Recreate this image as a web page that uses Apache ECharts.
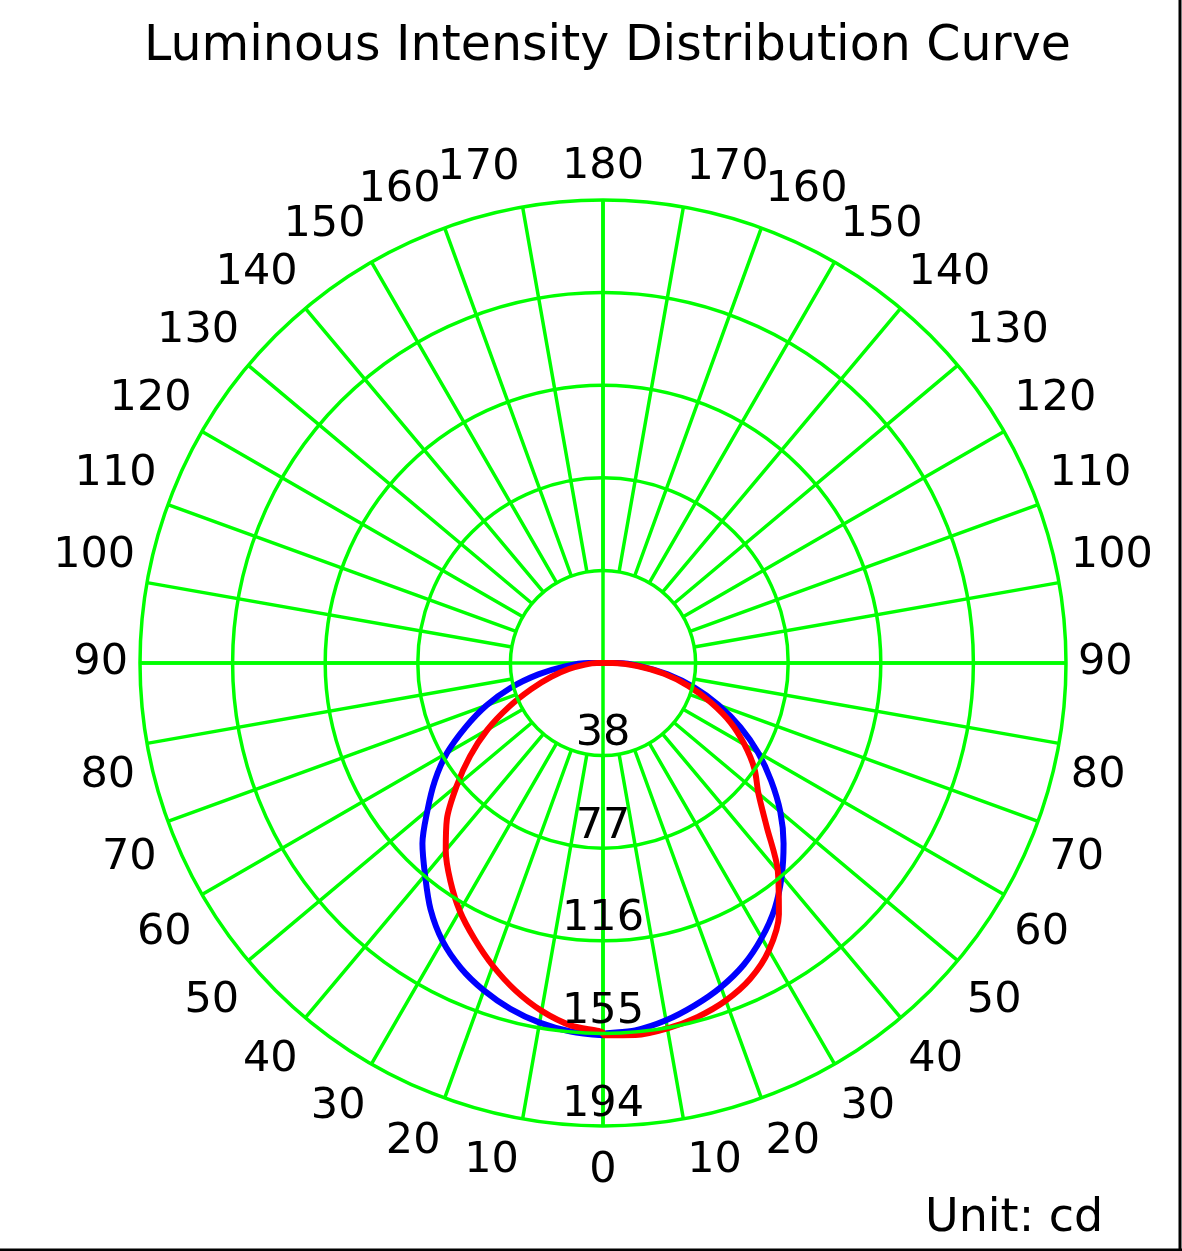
<!DOCTYPE html>
<html style="height: 100%">
<head>
    <meta charset="utf-8">
    <title>Luminous Intensity Distribution Curve</title>
    <script src="https://cdn.jsdelivr.net/npm/echarts@6/dist/echarts.min.js"></script>
</head>
<body style="height: 100%; margin: 0; background: #fff">
    <div id="chart" style="width: 1182px; height: 1251px"></div>
    <script>
        // gamma angles (deg from nadir), same for both half planes
        const gammaAngles = [0, 5, 10, 15, 20, 25, 30, 35, 40, 45, 50, 55, 60, 65, 70, 75, 80, 85, 90];

        // intensity in cd
        const blueRight = [155.5, 154.5, 152, 148.5, 144.5, 139.5, 133, 125.5, 116.5, 107, 97, 86, 75, 63.5, 51.5, 39.5, 27.5, 16, 6];
        const blueLeft = [156, 155, 153, 150, 146, 141, 134.5, 126, 116, 107, 96, 86, 75.5, 63.5, 52, 40, 27.5, 16, 6];
        const redRight = [156, 156.5, 155.5, 153.5, 150.5, 146, 139, 128.5, 114, 97, 85, 77.5, 68.5, 59, 48, 37, 26, 14.5, 4];
        const redLeft = [155, 152.5, 148, 142, 135, 127.5, 120, 111.5, 102.5, 92.5, 80, 68, 56, 43.5, 32, 22.5, 14.5, 7.5, 2.5];

        // radial scale
        const maxCd = 194;
        const ringStep = 38.8;

        const green = '#00ff00';
        const labelFont = 'DejaVu Sans';

        // left half plane sits at 360 - gamma, right half at gamma
        function buildLoop(left, right) {
            const pts = [[0, 180]];
            for (let i = gammaAngles.length - 1; i >= 0; i--) {
                pts.push([left[i], 360 - gammaAngles[i]]);
            }
            for (let i = 0; i < gammaAngles.length; i++) {
                pts.push([right[i], gammaAngles[i]]);
            }
            pts.push([0, 180]);
            return pts;
        }

        const cx = 603, cy = 663, outerR = 463;
        const innerR = outerR * ringStep / maxCd;

        // nudges for the angle labels, done with rich-text padding
        function labelPad(shown, isLeft) {
            let pad = [0, 0, 0, 0]; // top right bottom left
            if (shown === 170 || shown === 10) {
                const dx = shown === 170 ? 42 : 29;  // center aligned -> double
                if (isLeft) pad[1] = dx * 2; else pad[3] = dx * 2;
                if (shown === 10) pad[0] = 9; else pad[2] = 6;
            } else if (shown === 80) {
                pad[0] = 60;          // middle aligned
            } else if (shown === 100) {
                pad[2] = 50;
            } else if (shown < 90) {
                pad[0] = 11;          // top aligned
            } else if (shown > 100 && shown < 180) {
                pad[2] = 5;           // bottom aligned
            }
            return pad;
        }

        const angleRich = {};
        for (let v = 0; v < 360; v += 10) {
            const shown = v <= 180 ? v : 360 - v;
            angleRich['a' + v] = {
                fontFamily: labelFont,
                fontSize: 43,
                color: '#000',
                padding: labelPad(shown, v > 180)
            };
        }

        option = {
            animation: false,
            backgroundColor: '#fff',
            title: [
                {
                    text: 'Luminous Intensity Distribution Curve',
                    left: 139,
                    top: 18,
                    textStyle: { fontFamily: labelFont, fontSize: 49, fontWeight: 'normal', color: '#000' }
                },
                {
                    text: 'Unit: cd',
                    left: 920,
                    top: 1191,
                    textStyle: { fontFamily: labelFont, fontSize: 46, fontWeight: 'normal', color: '#000' }
                }
            ],
            polar: [
                { center: [cx, cy], radius: [innerR, outerR] },
                { center: [cx, cy], radius: [0, outerR] }
            ],
            angleAxis: [
                {
                    // spokes every 10 deg, only outside the first ring
                    polarIndex: 0,
                    type: 'value',
                    min: 0,
                    max: 360,
                    interval: 10,
                    startAngle: 270,
                    clockwise: false,
                    axisLine: { show: false },
                    axisTick: { show: false },
                    splitLine: { show: true, lineStyle: { color: green, width: 3.5 } },
                    axisLabel: {
                        show: true,
                        margin: 12,
                        hideOverlap: false,
                        fontFamily: labelFont,
                        fontSize: 43,
                        color: '#000',
                        formatter: v => '{a' + v + '|' + (v <= 180 ? v : 360 - v) + '}',
                        rich: angleRich
                    }
                },
                {
                    // the two full axes through the centre
                    polarIndex: 1,
                    type: 'value',
                    min: 0,
                    max: 360,
                    interval: 90,
                    startAngle: 270,
                    clockwise: false,
                    axisLine: { show: false },
                    axisTick: { show: false },
                    axisLabel: { show: false },
                    splitLine: { show: true, lineStyle: { color: green, width: 3.5 } }
                }
            ],
            radiusAxis: [
                { polarIndex: 0, type: 'value', min: 0, max: 1, show: false },
                {
                    polarIndex: 1,
                    type: 'value',
                    min: 0,
                    max: maxCd,
                    interval: ringStep,
                    axisLine: { show: false },
                    axisTick: { show: false },
                    splitLine: { show: true, lineStyle: { color: green, width: 3.5 } },
                    axisLabel: {
                        showMinLabel: false,
                        margin: 0,
                        align: 'center',
                        verticalAlign: 'bottom',
                        fontFamily: labelFont,
                        fontSize: 43,
                        color: '#000',
                        formatter: v => String(Math.floor(v))
                    },
                    z: 5
                }
            ],
            series: [
                {
                    name: 'C0-C180',
                    type: 'line',
                    coordinateSystem: 'polar',
                    polarIndex: 1,
                    showSymbol: false,
                    symbol: 'none',
                    smooth: 0.3,
                    lineStyle: { color: '#0000ff', width: 6 },
                    data: buildLoop(blueLeft, blueRight),
                    z: 3
                },
                {
                    name: 'C90-C270',
                    type: 'line',
                    coordinateSystem: 'polar',
                    polarIndex: 1,
                    showSymbol: false,
                    symbol: 'none',
                    smooth: 0.3,
                    lineStyle: { color: '#ff0000', width: 6 },
                    data: buildLoop(redLeft, redRight),
                    z: 4
                }
            ],
            graphic: [
                { type: 'line', shape: { x1: 1180, y1: 0, x2: 1180, y2: 1251 }, style: { stroke: '#000', lineWidth: 3 } },
                { type: 'line', shape: { x1: 0, y1: 1250, x2: 1182, y2: 1250 }, style: { stroke: '#000', lineWidth: 3 } }
            ]
        };

        const chart = echarts.init(document.getElementById('chart'), null, { renderer: 'canvas' });
        chart.setOption(option);
    </script>
</body>
</html>
